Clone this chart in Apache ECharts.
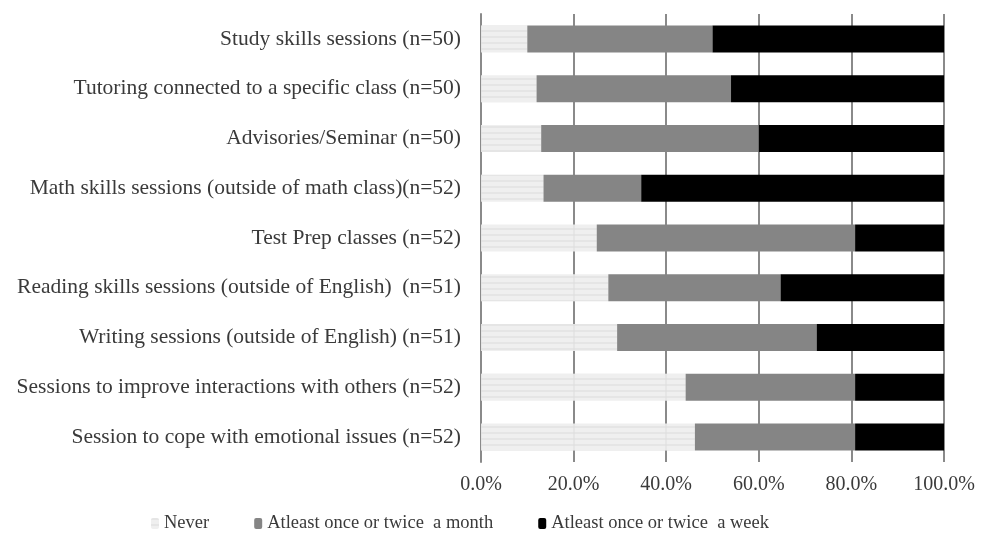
<!DOCTYPE html>
<html>
<head>
<meta charset="utf-8">
<title>Session participation</title>
<script src="https://cdn.jsdelivr.net/npm/echarts@6/dist/echarts.min.js"></script>
<style>
html,body{margin:0;padding:0;background:#fff;}
#main{width:986px;height:548px;}
</style>
</head>
<body>
<div id="main"></div>
<script>
// categories, top to bottom
var categories = [
	'Study skills sessions (n=50)',
	'Tutoring connected to a specific class (n=50)',
	'Advisories/Seminar (n=50)',
	'Math skills sessions (outside of math class)(n=52)',
	'Test Prep classes (n=52)',
	'Reading skills sessions (outside of English)  (n=51)',
	'Writing sessions (outside of English) (n=51)',
	'Sessions to improve interactions with others (n=52)',
	'Session to cope with emotional issues (n=52)'
];
var seriesNames = ['Never', 'Atleast once or twice  a month', 'Atleast once or twice  a week'];
// percentages
var never = [10, 12, 13, 13.5, 25, 27.5, 29.4, 44.2, 46.2];
var monthly = [40, 42, 47, 21.1, 55.8, 37.2, 43.1, 36.6, 34.6];
var weekly = [50, 46, 40, 65.4, 19.2, 35.3, 27.5, 19.2, 19.2];
var xTicks = [0, 20, 40, 60, 80, 100];

var font = '"Liberation Serif", "DejaVu Serif", serif';
var textColor = '#3a3a3a';

var chart = echarts.init(document.getElementById('main'));
var option = {
	animation: false,
	textStyle: {fontFamily: font},
	grid: {left: 481, right: 42, top: 14, bottom: 86, containLabel: false},
	legend: {
		bottom: 10,
		left: 146,
		itemWidth: 8,
		itemHeight: 11,
		itemGap: 45,
		textStyle: {fontFamily: font, fontSize: 18.5, color: textColor},
		data: seriesNames
	},
	xAxis: {
		type: 'value',
		min: xTicks[0],
		max: xTicks[xTicks.length - 1],
		interval: 20,
		axisLine: {show: false},
		axisTick: {show: false},
		axisLabel: {
			margin: 13,
			fontFamily: font,
			fontSize: 20,
			color: textColor,
			formatter: function (v) { return v.toFixed(1) + '%'; }
		},
		splitLine: {show: true, lineStyle: {color: '#8a8a8a', width: 2}}
	},
	yAxis: {
		type: 'category',
		inverse: true,
		data: categories,
		axisLine: {show: true, lineStyle: {color: '#8a8a8a', width: 2}},
		axisTick: {show: false},
		axisLabel: {margin: 20, fontFamily: font, fontSize: 21.5, color: textColor}
	},
	series: [
		{
			name: seriesNames[0],
			type: 'bar',
			stack: 'all',
			barWidth: 27,
			data: never,
			itemStyle: {
				color: 'rgba(238,238,238,0.92)',
				decal: {
					symbol: 'rect',
					color: 'rgba(220,220,220,0.5)',
					dashArrayX: [1, 0],
					dashArrayY: [2, 4],
					rotation: 0
				}
			}
		},
		{
			name: seriesNames[1],
			type: 'bar',
			stack: 'all',
			data: monthly,
			itemStyle: {color: '#858585'}
		},
		{
			name: seriesNames[2],
			type: 'bar',
			stack: 'all',
			data: weekly,
			itemStyle: {color: '#000000'}
		}
	]
};
chart.setOption(option);
</script>
</body>
</html>
